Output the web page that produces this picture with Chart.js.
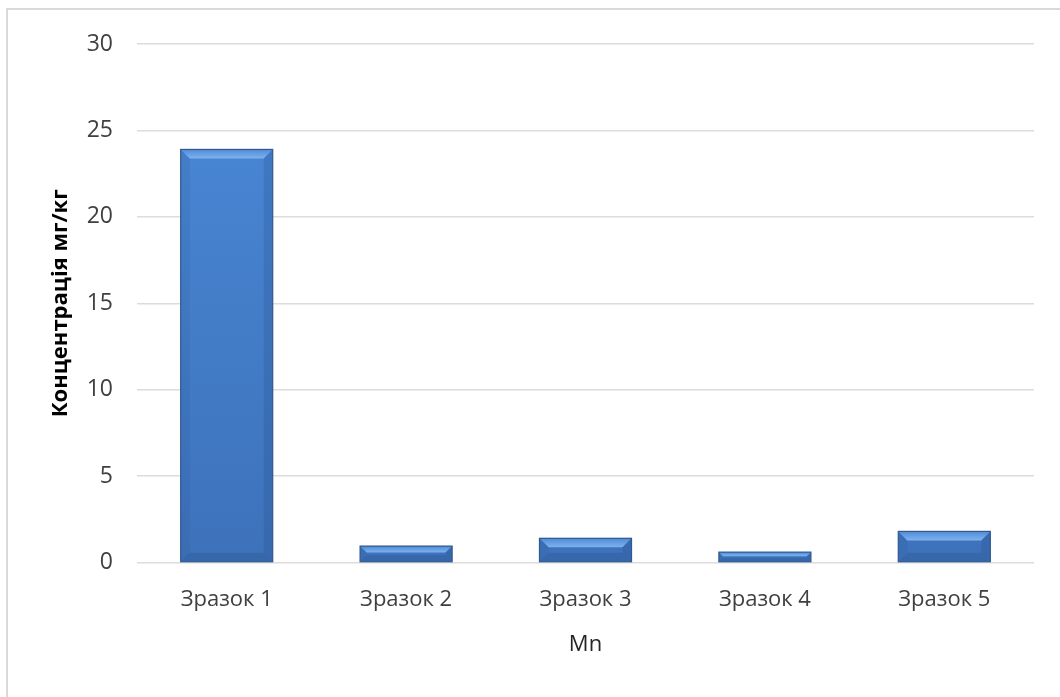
<!DOCTYPE html>
<html>
<head>
<meta charset="utf-8">
<script src="https://cdn.jsdelivr.net/npm/chart.js@4"></script>
<style>
  html, body { margin: 0; padding: 0; background: #fff; overflow: hidden; }
  #wrap { position: relative; width: 1060px; height: 697px; }
  #frame { position: absolute; left: 6px; top: 8px; width: 1200px; height: 900px; border: 2px solid #d9d9d9; box-sizing: border-box; }
  #myChart { position: absolute; left: 0; top: 0; }
</style>
</head>
<body>
<div id="wrap">
  <div id="frame"></div>
  <canvas id="myChart" width="1060" height="697"></canvas>
</div>
<script>
var samples = ['Зразок 1', 'Зразок 2', 'Зразок 3', 'Зразок 4', 'Зразок 5'];
var mnValues = [23.9, 0.95, 1.4, 0.6, 1.8];
var yTicks = [0, 5, 10, 15, 20, 25, 30];

var fontFamily = "'Open Sans', 'Noto Sans', sans-serif";

// bevelled look on top of each bar: light top face, shaded sides, dark outline
var bevelBars = {
  id: 'bevelBars',
  afterDatasetsDraw: function(chart) {
    var ctx = chart.ctx;
    chart.getDatasetMeta(0).data.forEach(function(bar) {
      var l = bar.x - bar.width / 2, r = bar.x + bar.width / 2;
      var t = bar.y, b = bar.base;
      var h = b - t;
      var e = Math.min(9, h / 2.4);
      ctx.save();

      var g = ctx.createLinearGradient(0, t, 0, t + e);
      g.addColorStop(0, '#4f8bd8');
      g.addColorStop(1, '#7fb2ee');
      ctx.fillStyle = g;
      ctx.beginPath();
      ctx.moveTo(l, t); ctx.lineTo(r, t); ctx.lineTo(r - e, t + e); ctx.lineTo(l + e, t + e);
      ctx.closePath(); ctx.fill();

      ctx.fillStyle = 'rgba(25,55,105,0.16)';
      ctx.beginPath();
      ctx.moveTo(r, t); ctx.lineTo(r, b); ctx.lineTo(r - e, b - e); ctx.lineTo(r - e, t + e);
      ctx.closePath(); ctx.fill();

      ctx.fillStyle = 'rgba(25,55,105,0.08)';
      ctx.beginPath();
      ctx.moveTo(l, t); ctx.lineTo(l, b); ctx.lineTo(l + e, b - e); ctx.lineTo(l + e, t + e);
      ctx.closePath(); ctx.fill();

      ctx.fillStyle = 'rgba(25,55,105,0.18)';
      ctx.beginPath();
      ctx.moveTo(l, b); ctx.lineTo(r, b); ctx.lineTo(r - e, b - e); ctx.lineTo(l + e, b - e);
      ctx.closePath(); ctx.fill();

      ctx.strokeStyle = '#30598f';
      ctx.lineWidth = 1.2;
      ctx.strokeRect(l, t, r - l, h);
      ctx.restore();
    });
  }
};

var ctx = document.getElementById('myChart').getContext('2d');
var myChart = new Chart(ctx, {
  type: 'bar',
  data: {
    labels: samples,
    datasets: [{
      label: 'Mn',
      data: mnValues,
      backgroundColor: function(c) {
        var area = c.chart.chartArea;
        if (!area) return '#4682d0';
        var g = c.chart.ctx.createLinearGradient(0, area.top, 0, area.bottom);
        g.addColorStop(0, '#4a89d8');
        g.addColorStop(1, '#3d72ba');
        return g;
      },
      borderWidth: 0,
      categoryPercentage: 1,
      barPercentage: 0.513
    }]
  },
  options: {
    responsive: false,
    animation: false,
    layout: { padding: { left: 48, top: 44, right: 26, bottom: 39 } },
    plugins: {
      legend: { display: false },
      tooltip: { enabled: false }
    },
    scales: {
      x: {
        grid: { display: false, drawTicks: false },
        border: { display: false },
        ticks: { color: '#404040', padding: 24, font: { family: fontFamily, size: 22 } },
        title: {
          display: true, text: 'Mn', color: '#262626', padding: { top: 0, bottom: 0 },
          font: { family: fontFamily, size: 22 }
        },
        afterFit: function(s) { s.height = 95.5; }
      },
      y: {
        min: 0, max: 30,
        afterBuildTicks: function(s) { s.ticks = yTicks.map(function(v) { return { value: v }; }); },
        grid: { color: '#dcdcdc', lineWidth: 1.5, drawTicks: false },
        border: { display: false },
        ticks: { color: '#404040', padding: 24, font: { family: fontFamily, size: 23 } },
        title: {
          display: true, text: 'Концентрація мг/кг', color: '#000', padding: { top: 0, bottom: 0 },
          font: { family: fontFamily, size: 22, weight: 'bold' }
        },
        afterFit: function(s) { s.width = 89; }
      }
    }
  },
  plugins: [bevelBars]
});
</script>
</body>
</html>
